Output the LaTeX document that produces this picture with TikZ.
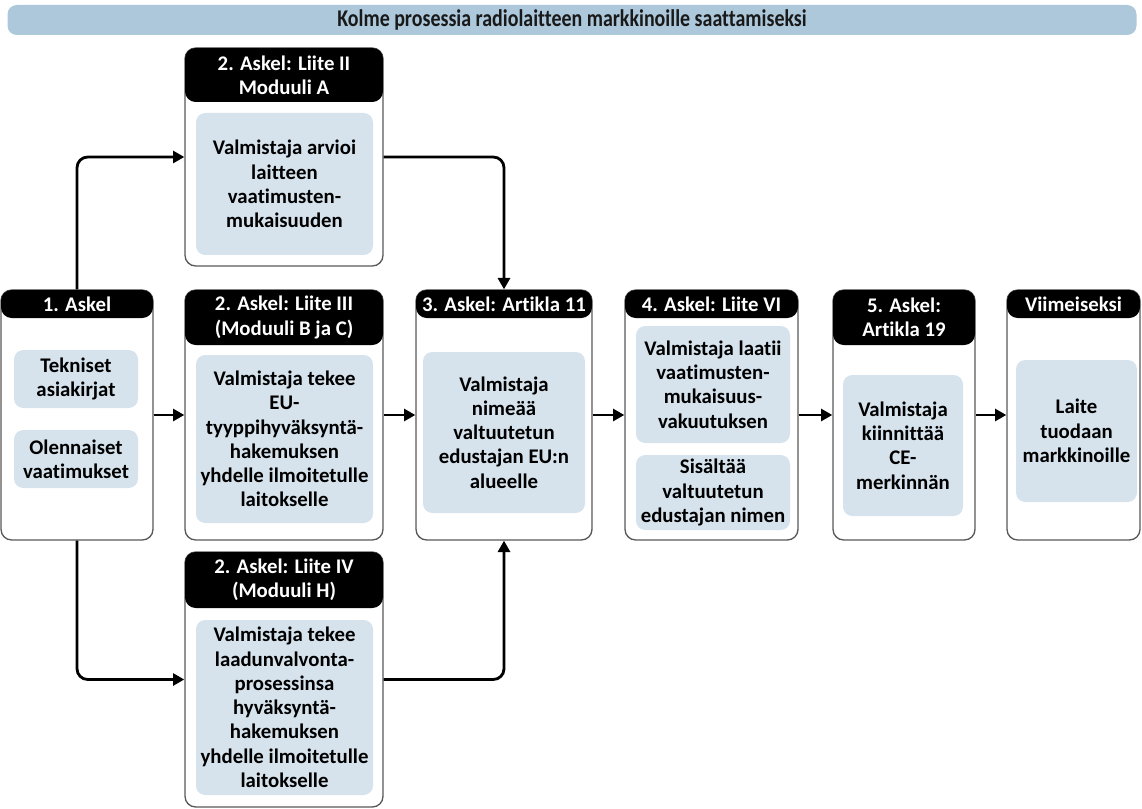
\documentclass[tikz,border=0pt]{standalone}
\usepackage{fontspec}
\setmainfont{Carlito}[Ligatures=NoCommon]
\usetikzlibrary{arrows.meta}
\definecolor{bannerBlue}{RGB}{172,200,218}
\definecolor{paleBlue}{RGB}{214,227,237}
\newcommand\stepfont{\bfseries\fontsize{15.6}{18.2}\selectfont}
\begin{document}
\begin{tikzpicture}
[x=0.75pt,y=-0.75pt,%
  frameDecorate/.style={draw=black!65,line width=1pt,rounded corners=8pt,fill=white,inner sep=0pt},%
  headDecorate/.style={fill=black,rounded corners=8pt,inner sep=0pt,text=white,align=center,font=\stepfont},%
  innerDecorate/.style={fill=paleBlue,rounded corners=7pt,inner sep=0pt,align=center,font=\stepfont},%
  lineDecorate/.style={-{Triangle[length=8.5pt,width=9pt]},line width=2.1pt,rounded corners=8pt},%
  boxSize/.style n args={4}{minimum width=(#3-#1)*0.75pt,minimum height=(#4-#2)*0.75pt}]
\useasboundingbox (0,0) rectangle (1142,809);
%% title banner
\node (title) at (572,20) [fill=bannerBlue,rounded corners=7pt,inner sep=0pt,boxSize={8}{5}{1137}{35},
  text=black!90,font=\bfseries\fontsize{18}{20}\selectfont]
  {\resizebox{352pt}{\height}{Kolme prosessia radiolaitteen markkinoille saattamiseksi}};
%% step frames
\foreach \nodename/\xa/\ya/\xb/\yb in {
  f1/1/290/153/540, f2a/185/48/383/266, f2b/185/290/383/540, f2c/185/552/383/807,
  f3/416/290/592/540, f4/625/290/798/540, f5/833/290/975/540, f6/1007/290/1140/540}
{
  \node (\nodename) at ({(\xa+\xb)/2},{(\ya+\yb)/2}) [frameDecorate,boxSize={\xa}{\ya}{\xb}{\yb}] {};
}
%% black headers
\foreach \nodename/\xa/\ya/\xb/\yb/\caption in {
  h1/1/290/153/318/{1. Askel},
  h2a/185/48/383/102/{2. Askel: Liite II\\Moduuli A},
  h2b/185/290/383/345/{2. Askel: Liite III\\(Moduuli B ja C)},
  h2c/185/552/383/608/{2. Askel: Liite IV\\(Moduuli H)},
  h3/416/290/592/318/{3. Askel: Artikla 11},
  h4/625/290/798/318/{4. Askel: Liite VI},
  h5/833/290/975/345/{5. Askel:\\Artikla 19},
  h6/1007/290/1140/318/{Viimeiseksi}}
{
  \node (\nodename) at ({(\xa+\xb)/2},{(\ya+\yb)/2}) [headDecorate,boxSize={\xa}{\ya}{\xb}{\yb}] {\caption};
}
%% pale blue contents
\foreach \nodename/\xa/\ya/\xb/\yb/\caption in {
  i1a/14/350/138/408/{Tekniset\\asiakirjat},
  i1b/14/430/138/488/{Olennaiset\\vaatimukset},
  i2a/196/113/373/255/{Valmistaja arvioi\\laitteen\\vaatimusten-\\mukaisuuden},
  i2b/196/355/373/523/{Valmistaja tekee\\EU-\\tyyppihyväksyntä-\\hakemuksen\\yhdelle ilmoitetulle\\laitokselle},
  i2c/196/620/373/795/{Valmistaja tekee\\laadunvalvonta-\\prosessinsa\\hyväksyntä-\\hakemuksen\\yhdelle ilmoitetulle\\laitokselle},
  i3/423/352/585/513/{Valmistaja\\nimeää\\valtuutetun\\edustajan EU:n\\alueelle},
  i4a/636/326/790/443/{Valmistaja laatii\\vaatimusten-\\mukaisuus-\\vakuutuksen},
  i4b/636/455/790/530/{Sisältää\\valtuutetun\\edustajan nimen},
  i5/843/375/963/516/{Valmistaja\\kiinnittää\\CE-\\merkinnän},
  i6/1016/360/1137/502/{Laite\\tuodaan\\markkinoille}}
{
  \node (\nodename) at ({(\xa+\xb)/2},{(\ya+\yb)/2}) [innerDecorate,boxSize={\xa}{\ya}{\xb}{\yb}] {\caption};
}
%% connectors
\draw[lineDecorate] (f1.north) |- (f2a.west);
\draw[lineDecorate] (f1.south) |- (f2c.west);
\draw[lineDecorate] (f2a.east) -| (f3.north);
\draw[lineDecorate] (f2c.east) -| (f3.south);
\path
\foreach \startnode/\endnode in {f1/f2b, f2b/f3, f3/f4, f4/f5, f5/f6}
{
  (\startnode) edge[lineDecorate] (\endnode)
};
\end{tikzpicture}
\end{document}
